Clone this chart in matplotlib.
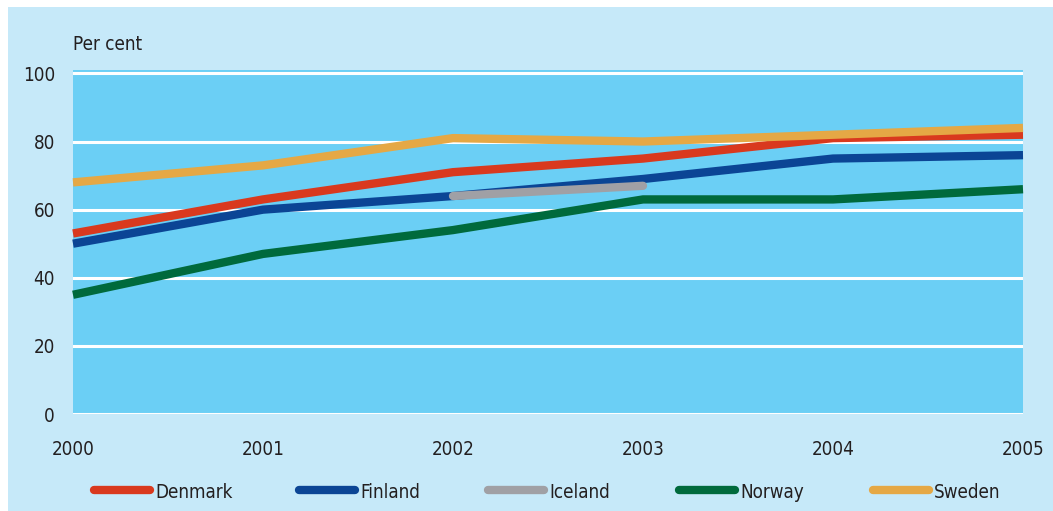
import matplotlib.pyplot as plt
from matplotlib.lines import Line2D
from matplotlib.patches import Rectangle

years = [2000, 2001, 2002, 2003, 2004, 2005]
denmark = [53, 63, 71, 75, 81, 82]
finland = [50, 60, 64, 69, 75, 76]
iceland_years = [2002, 2003]
iceland = [64, 67]
norway = [35, 47, 54, 63, 63, 66]
sweden = [68, 73, 81, 80, 82, 84]

yticks = [0, 20, 40, 60, 80, 100]

c_bg = "#c6e9f9"
c_plot = "#6bcff5"
c_den = "#d9391e"
c_fin = "#0b4595"
c_ice = "#a0a0a5"
c_nor = "#006a3c"
c_swe = "#e5a845"

W, H = 1053, 511
fig = plt.figure(figsize=(W / 100, H / 100), dpi=100, facecolor=c_bg)
# thin white border on left and top
fig.patches.append(Rectangle((0, 0), 8 / W, 1, transform=fig.transFigure,
                             facecolor="white", edgecolor="none", zorder=0))
fig.patches.append(Rectangle((0, 1 - 7 / H), 1, 7 / H, transform=fig.transFigure,
                             facecolor="white", edgecolor="none", zorder=0))

font = dict(family="DejaVu Sans", stretch="condensed", color="#231f20")

ax = fig.add_axes([73 / W, (H - 414) / H, (1023 - 73) / W, (414 - 70) / H])
ax.set_facecolor(c_plot)
ax.set_xlim(2000, 2005)
ax.set_ylim(0, 101)
ax.set_yticks(yticks)
ax.set_xticks(years)
for s in ax.spines.values():
    s.set_visible(False)
ax.grid(axis="y", color="white", linewidth=2.2, zorder=1)
ax.set_axisbelow(True)
ax.tick_params(length=0)
ax.tick_params(axis="y", pad=13)
ax.tick_params(axis="x", pad=19)
for lbl in ax.get_xticklabels() + ax.get_yticklabels():
    lbl.set_fontsize(13.5)
    lbl.set_fontstretch("condensed")
    lbl.set_color("#231f20")

lw = 6
series = [
    ("Denmark", years, denmark, c_den),
    ("Finland", years, finland, c_fin),
    ("Iceland", iceland_years, iceland, c_ice),
    ("Norway", years, norway, c_nor),
    ("Sweden", years, sweden, c_swe),
]
# draw order: norway, finland, iceland, denmark, sweden
order = [3, 1, 2, 0, 4]
for i in order:
    name, xs, ys, col = series[i]
    ax.plot(xs, ys, color=col, linewidth=lw, solid_capstyle="round" if name == "Iceland" else "butt",
            solid_joinstyle="round", clip_on=False, zorder=3)

fig.text(73 / W, (H - 44) / H, "Per cent", fontsize=13.5, va="center", ha="left", **font)

# legend along the bottom
leg_x = [94, 299, 488, 679, 873]
leg_len = 56
leg_y = (H - 490) / H
for (name, xs, ys, col), x0 in zip(series, leg_x):
    fig.lines.append(Line2D([x0 / W, (x0 + leg_len) / W], [leg_y, leg_y], transform=fig.transFigure,
                            color=col, linewidth=lw, solid_capstyle="round"))
    fig.text((x0 + leg_len + 5) / W, leg_y - 2 / H, name, fontsize=13.5, va="center", ha="left", **font)

fig.savefig("out.png", dpi=100, facecolor=c_bg)
